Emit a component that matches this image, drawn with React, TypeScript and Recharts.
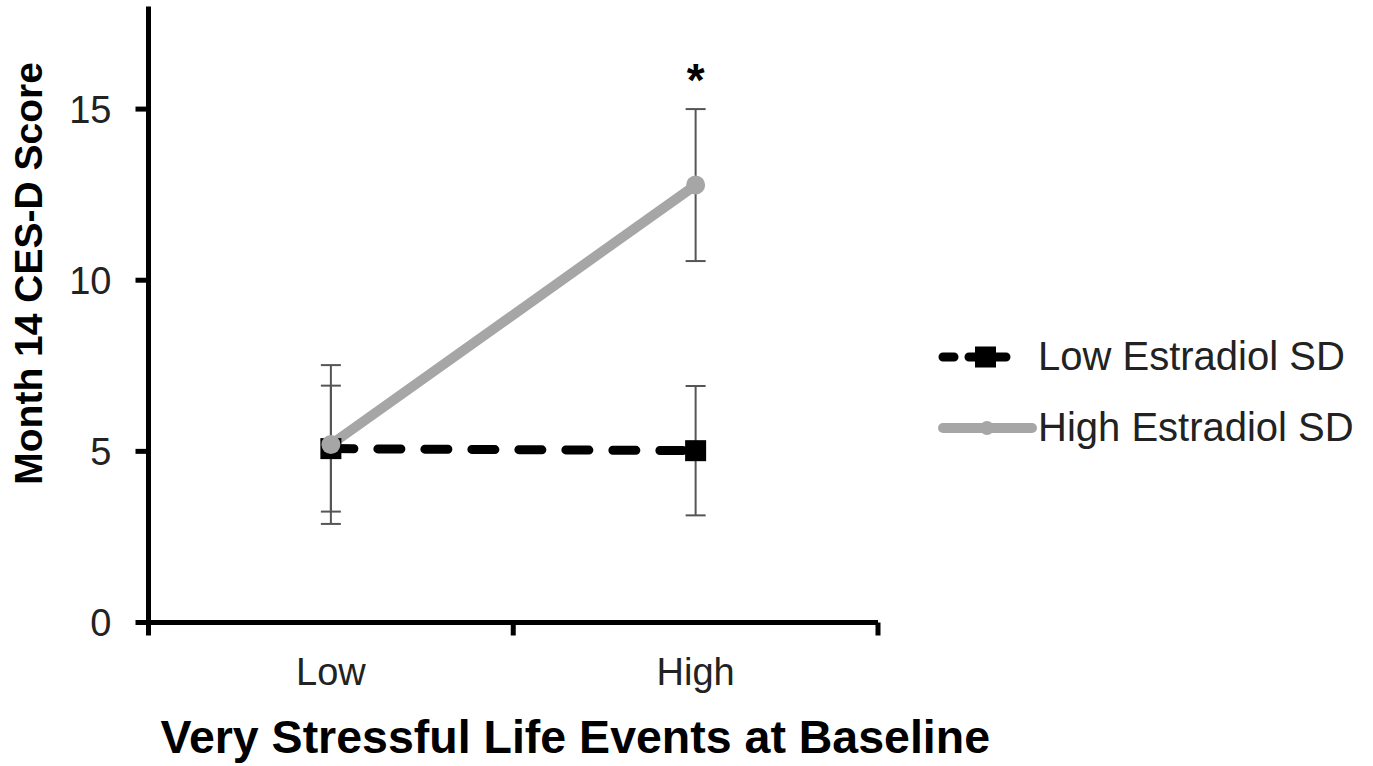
import React from 'react';
import {
	ErrorBar,
	Legend,
	Line,
	LineChart,
	ReferenceDot,
	XAxis,
	YAxis,
} from 'recharts';

// values (group means and error bars)
const categories = ['Low', 'High'];
const lowSD = [5.08, 5.02];
const lowSDErr = [1.84, 1.89];
const highSD = [5.2, 12.78];
const highSDErr = [2.32, 2.22];
const significance = ['', '*'];
const yTicks = [0, 5, 10, 15];
const seriesOrder = ['low', 'high'];

const FONT = '"Liberation Sans", Arial, Helvetica, sans-serif';
const GREY = '#a6a6a6';
const ERR = '#555555';
const TEXT = '#222222';

const data = categories.map((name, i) => ({
	pos: i + 0.5,
	name,
	low: lowSD[i],
	lowErr: lowSDErr[i],
	high: highSD[i],
	highErr: highSDErr[i],
}));

// boundaries get tick marks, band centres get the category label
const xTicks = Array.from({ length: categories.length * 2 + 1 }, (_, k) => k / 2);

const XTick = (props: any) => {
	const { x, y, payload } = props;
	const v = payload.value as number;
	if (Number.isInteger(v)) {
		return <line x1={x} x2={x} y1={y} y2={y + 13} stroke='#000' strokeWidth={5} />;
	}
	return (
		<text x={x} y={y + 62} textAnchor='middle' fontSize={38} fill={TEXT} fontFamily={FONT}>
			{categories[Math.floor(v)]}
		</text>
	);
};

const SquareDot = (props: any) => {
	const { cx, cy } = props;
	if (cx == null || cy == null) return null;
	return <rect x={cx - 10.5} y={cy - 10.5} width={21} height={21} fill='#000' />;
};

const YTitle = (props: any) => {
	const vb = props.viewBox;
	const cx = vb.x + 29;
	const cy = vb.y + vb.height / 2 - 41;
	return (
		<text
			x={cx}
			y={cy}
			transform={`rotate(-90 ${cx} ${cy})`}
			textAnchor='middle'
			dominantBaseline='central'
			fontSize={39}
			fontWeight='bold'
			fontFamily={FONT}
			fill='#000'
		>
			Month 14 CES-D Score
		</text>
	);
};

const XTitle = (props: any) => {
	const vb = props.viewBox;
	return (
		<text
			x={vb.x + vb.width / 2 + 62}
			y={vb.y + 130.5}
			textAnchor='middle'
			fontSize={46.5}
			fontWeight='bold'
			fontFamily={FONT}
			fill='#000'
		>
			Very Stressful Life Events at Baseline
		</text>
	);
};

const LegendBox = (props: any) => {
	const items = [...(props.payload || [])].sort(
		(a: any, b: any) => seriesOrder.indexOf(a.dataKey) - seriesOrder.indexOf(b.dataKey)
	);
	return (
		<div style={{ fontFamily: FONT }}>
			{items.map((item: any) => {
				const isLow = item.dataKey === 'low';
				return (
					<div
						key={item.value}
						style={{ display: 'flex', alignItems: 'center', height: 71 }}
					>
						<svg width={100} height={40}>
							{isLow ? (
								<>
									<line
										x1={5}
										x2={82}
										y1={20}
										y2={20}
										stroke='#000'
										strokeWidth={9}
										strokeLinecap='round'
										strokeDasharray='11 15'
									/>
									<rect x={37} y={9.5} width={21} height={21} fill='#000' />
								</>
							) : (
								<>
									<line
										x1={5}
										x2={94}
										y1={20}
										y2={20}
										stroke={GREY}
										strokeWidth={10}
										strokeLinecap='round'
									/>
									<circle cx={49} cy={20} r={7} fill={GREY} />
								</>
							)}
						</svg>
						<span style={{ fontSize: 40, color: TEXT, whiteSpace: 'nowrap' }}>
							{item.value}
						</span>
					</div>
				);
			})}
		</div>
	);
};

export default function App() {
	return (
		<div style={{ position: 'absolute', left: 0, top: 0, background: '#fff' }}>
			<LineChart
				width={1373}
				height={766}
				data={data}
				margin={{ top: 6.4, right: 495, bottom: 63.5, left: 0 }}
			>
				<XAxis
					dataKey='pos'
					type='number'
					domain={[0, categories.length]}
					ticks={xTicks}
					interval={0}
					height={80}
					axisLine={{ stroke: '#000', strokeWidth: 5 }}
					tickLine={false}
					tickSize={0}
					tickMargin={0}
					tick={<XTick />}
					label={{ content: XTitle }}
				/>
				<YAxis
					type='number'
					domain={[0, 18]}
					ticks={yTicks}
					interval={0}
					width={148.5}
					axisLine={{ stroke: '#000', strokeWidth: 5 }}
					tickLine={{ stroke: '#000', strokeWidth: 5 }}
					tickSize={13}
					tickMargin={24}
					tick={{ fontSize: 38, fill: TEXT, fontFamily: FONT }}
					label={{ content: YTitle }}
				/>
				<Legend
					layout='horizontal'
					verticalAlign='middle'
					align='center'
					wrapperStyle={{ left: 938, top: 321, width: 435 }}
					content={LegendBox}
				/>
				<Line
					dataKey='low'
					name='Low Estradiol SD'
					stroke='#000'
					strokeWidth={9}
					strokeDasharray='23 24'
					strokeLinecap='round'
					dot={SquareDot}
					activeDot={false}
					isAnimationActive={false}
				>
					<ErrorBar
						dataKey='lowErr'
						direction='y'
						width={10}
						stroke={ERR}
						strokeWidth={2}
						isAnimationActive={false}
					/>
				</Line>
				<Line
					dataKey='high'
					name='High Estradiol SD'
					stroke={GREY}
					strokeWidth={10}
					strokeLinecap='round'
					dot={{ r: 9.5, fill: GREY, stroke: 'none' }}
					activeDot={false}
					isAnimationActive={false}
				>
					<ErrorBar
						dataKey='highErr'
						direction='y'
						width={10}
						stroke={ERR}
						strokeWidth={2}
						isAnimationActive={false}
					/>
				</Line>
				{data.map((d, i) =>
					significance[i] ? (
						<ReferenceDot
							key={d.name}
							x={d.pos}
							y={d.high + d.highErr}
							r={0}
							fill='none'
							stroke='none'
							label={{
								value: significance[i],
								position: 'top',
								offset: 13,
								fontSize: 46,
								fontWeight: 'bold',
								fill: '#000',
								fontFamily: FONT,
							}}
						/>
					) : null
				)}
			</LineChart>
		</div>
	);
}
